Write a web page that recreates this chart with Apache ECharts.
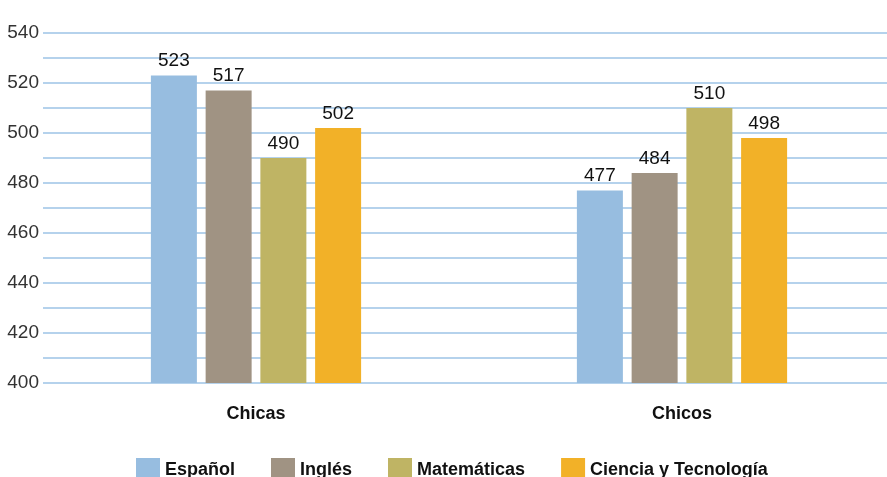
<!DOCTYPE html>
<html>
<head>
<meta charset="utf-8">
<script src="https://cdn.jsdelivr.net/npm/echarts@6/dist/echarts.min.js"></script>
<style>
  html, body { margin: 0; padding: 0; background: #fff; overflow: hidden; }
  #chart { width: 887px; height: 477px; }
</style>
</head>
<body>
<div id="chart"></div>
<script>
// datos
const categories = ['Chicas', 'Chicos'];
const subjects = ['Español', 'Inglés', 'Matemáticas', 'Ciencia y Tecnología'];
const espanol = [523, 477];
const ingles = [517, 484];
const matematicas = [490, 510];
const ciencia = [502, 498];
const colors = ['#97bde0', '#a09383', '#bfb464', '#f2b128'];

const font = '"Liberation Sans Narrow", "Liberation Sans", Arial, sans-serif';
const chart = echarts.init(document.getElementById('chart'));

const seriesData = [espanol, ingles, matematicas, ciencia];

chart.setOption({
  animation: false,
  color: colors,
  textStyle: { fontFamily: font },
  grid: {
    left: 43, width: 852, top: 33, bottom: 94,
    containLabel: false,
    outerBoundsMode: 'none'
  },
  legend: {
    bottom: -10,
    left: 131,
    itemWidth: 24,
    itemHeight: 24,
    itemGap: 36,
    icon: 'rect',
    textStyle: { fontSize: 18, fontWeight: 'bold', color: '#111', fontFamily: font },
    data: subjects
  },
  xAxis: {
    type: 'category',
    data: categories,
    axisLine: { show: false },
    axisTick: { show: false },
    axisLabel: { fontSize: 18, fontWeight: 'bold', color: '#111', margin: 22 }
  },
  yAxis: {
    type: 'value',
    min: 400,
    max: 540,
    interval: 10,
    axisLine: { show: false },
    axisTick: { show: false },
    axisLabel: {
      fontSize: 19,
      color: '#333',
      margin: 4,
      showMinLabel: true,
      formatter: v => (v % 20 === 0 ? String(v) : '')
    },
    splitLine: { lineStyle: { color: '#9dc3e6', width: 1.5 } }
  },
  series: subjects.map((name, i) => ({
    name: name,
    type: 'bar',
    data: seriesData[i],
    barWidth: 46,
    barGap: '19%',
    label: {
      show: true,
      position: 'top',
      distance: 5,
      fontSize: 19,
      color: '#111'
    }
  }))
});
</script>
</body>
</html>
